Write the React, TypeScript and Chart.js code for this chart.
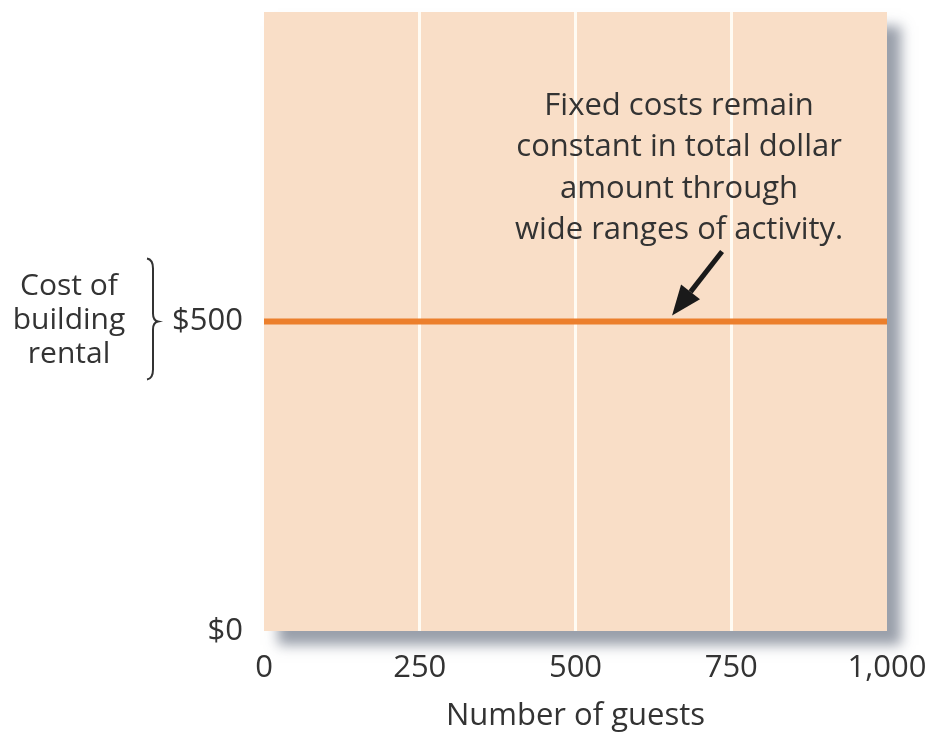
import React, { useEffect, useRef } from "react";
import { Chart, registerables } from "chart.js";

Chart.register(...registerables);

// Fixed cost of renting the building across the activity range
const guests = [0, 1000];
const rentalCost = [500, 500];
const xTicks = [0, 250, 500, 750, 1000];
const yTicks = [0, 500];
const xTitle = "Number of guests";
const yLabelLines = ["Cost of", "building", "rental"];
const noteLines = [
  "Fixed costs remain",
  "constant in total dollar",
  "amount through",
  "wide ranges of activity.",
];
const noteTarget = { x: 655, y: 500 };

const FONT = "'Open Sans', 'Liberation Sans', sans-serif";
const TEXT = "#333333";
const PEACH = "#F9DEC7";
const ORANGE = "#EC7F2C";

const panelPlugin = {
  id: "panel",
  beforeDraw(chart: any) {
    const { ctx, chartArea: a } = chart;
    ctx.save();
    ctx.shadowColor = "rgba(70, 80, 100, 0.55)";
    ctx.shadowBlur = 12;
    ctx.shadowOffsetX = 14;
    ctx.shadowOffsetY = 14;
    ctx.fillStyle = PEACH;
    ctx.fillRect(a.left, a.top, a.right - a.left, a.bottom - a.top);
    ctx.restore();
    ctx.save();
    ctx.fillStyle = PEACH;
    ctx.fillRect(a.left, a.top, a.right - a.left, a.bottom - a.top);
    ctx.restore();
  },
};

const notesPlugin = {
  id: "notes",
  afterDraw(chart: any) {
    const { ctx } = chart;
    const xs = chart.scales.x;
    const ys = chart.scales.y;

    // arrow pointing at the cost line
    const tipX = xs.getPixelForValue(noteTarget.x);
    const tipY = ys.getPixelForValue(noteTarget.y) - 6;
    const tailX = tipX + 50;
    const tailY = tipY - 64;
    const ang = Math.atan2(tipY - tailY, tipX - tailX);
    const headLen = 30;
    const headW = 12;
    const baseX = tipX - headLen * Math.cos(ang);
    const baseY = tipY - headLen * Math.sin(ang);
    ctx.save();
    ctx.strokeStyle = "#1a1a1a";
    ctx.fillStyle = "#1a1a1a";
    ctx.lineWidth = 5;
    ctx.beginPath();
    ctx.moveTo(tailX, tailY);
    ctx.lineTo(baseX, baseY);
    ctx.stroke();
    ctx.beginPath();
    ctx.moveTo(tipX, tipY);
    ctx.lineTo(baseX + headW * Math.sin(ang), baseY - headW * Math.cos(ang));
    ctx.lineTo(baseX - headW * Math.sin(ang), baseY + headW * Math.cos(ang));
    ctx.closePath();
    ctx.fill();

    // annotation text
    ctx.fillStyle = TEXT;
    ctx.font = `31px ${FONT}`;
    ctx.textAlign = "center";
    ctx.textBaseline = "middle";
    const cx = tipX + 7;
    noteLines.forEach((t, i) => ctx.fillText(t, cx, 106 + i * 41.5));

    // left-hand label with brace
    const yMid = ys.getPixelForValue(500);
    ctx.font = `30px ${FONT}`;
    yLabelLines.forEach((t, i) => ctx.fillText(t, 69, yMid - 35 + i * 34));

    const bx = 153;
    const top = yMid - 63;
    const bot = yMid + 58;
    ctx.strokeStyle = "#333";
    ctx.lineWidth = 2;
    ctx.beginPath();
    ctx.moveTo(bx - 6, top);
    ctx.quadraticCurveTo(bx, top + 1, bx, top + 10);
    ctx.lineTo(bx, yMid - 8);
    ctx.quadraticCurveTo(bx, yMid - 1, bx + 5, yMid);
    ctx.quadraticCurveTo(bx, yMid + 1, bx, yMid + 8);
    ctx.lineTo(bx, bot - 10);
    ctx.quadraticCurveTo(bx, bot - 1, bx - 6, bot);
    ctx.stroke();
    ctx.restore();
  },
};

export default function App() {
  const ref = useRef<HTMLCanvasElement>(null);

  useEffect(() => {
    if (!ref.current) return;
    const chart = new Chart(ref.current, {
      type: "line",
      data: {
        datasets: [
          {
            data: guests.map((g, i) => ({ x: g, y: rentalCost[i] })),
            borderColor: ORANGE,
            borderWidth: 6,
            pointRadius: 0,
            fill: false,
          },
        ],
      },
      options: {
        responsive: false,
        animation: false,
        layout: { padding: { top: 12, right: 45, left: 0, bottom: 0 } },
        plugins: {
          legend: { display: false },
          tooltip: { enabled: false },
        },
        scales: {
          x: {
            type: "linear",
            min: 0,
            max: 1000,
            afterBuildTicks: (s: any) => {
              s.ticks = xTicks.map((v) => ({ value: v }));
            },
            afterFit: (s: any) => {
              s.height = 101;
              s.paddingLeft = 0;
              s.paddingRight = 0;
            },
            border: { display: false },
            grid: {
              drawTicks: false,
              lineWidth: 3,
              color: (c: any) =>
                c.tick && (c.tick.value === 0 || c.tick.value === 1000)
                  ? "rgba(0,0,0,0)"
                  : "#FFFBF3",
            },
            ticks: {
              padding: 19,
              maxRotation: 0,
              color: TEXT,
              font: { family: FONT, size: 31 },
              callback: (v: any) => Number(v).toLocaleString("en-US"),
            },
            title: {
              display: true,
              text: xTitle,
              color: TEXT,
              font: { family: FONT, size: 31 },
              padding: { top: 0, bottom: -3 },
            },
          },
          y: {
            type: "linear",
            min: 0,
            max: 1000,
            afterBuildTicks: (s: any) => {
              s.ticks = yTicks.map((v) => ({ value: v }));
            },
            afterFit: (s: any) => {
              s.width = 264;
              s.paddingTop = 0;
              s.paddingBottom = 0;
            },
            border: { display: false },
            grid: { display: false, drawTicks: false },
            ticks: {
              padding: 21,
              color: TEXT,
              font: { family: FONT, size: 31 },
              callback: (v: any) => "$" + v,
            },
          },
        },
      },
      plugins: [panelPlugin, notesPlugin],
    });
    return () => chart.destroy();
  }, []);

  return (
    <div style={{ position: "fixed", left: 0, top: 0, width: 932, height: 732, background: "#fff" }}>
      <canvas ref={ref} width={932} height={732} style={{ display: "block" }} />
    </div>
  );
}
